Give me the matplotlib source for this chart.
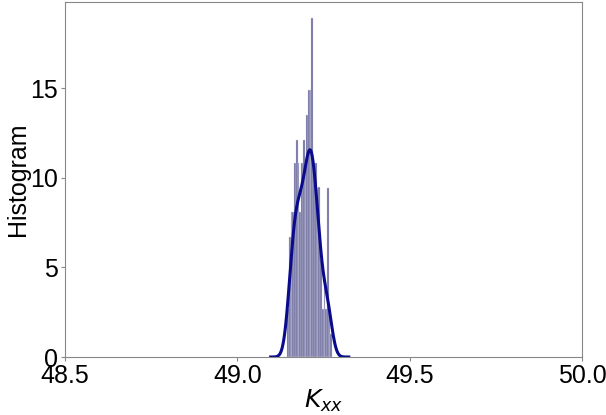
import numpy as np
import matplotlib
matplotlib.use("Agg")
import matplotlib.pyplot as plt

plt.rcParams['font.family'] = ['Liberation Sans', 'DejaVu Sans']

# Histogram bins (left edges) and density heights
bin_width = 0.005
bin_left = [49.145 + bin_width * i for i in range(26)]
heights = [2.7, 6.7, 8.1, 8.1, 10.8, 12.1, 10.8, 8.1, 10.8, 12.1, 10.8, 13.5,
           14.9, 14.9, 18.9, 10.8, 10.8, 9.4, 9.5, 5.4, 2.7, 4.0, 2.7, 9.4, 2.7, 1.3]

xticks = [48.5, 49.0, 49.5, 50.0]
xticklabels = ["48.5", "49.0", "49.5", "50.0"]
yticks = [0, 5, 10, 15]

fig = plt.figure(figsize=(6.06, 4.15), dpi=100)
ax = fig.add_axes([65 / 606, 1 - 357 / 415, (582 - 65) / 606, (357 - 2) / 415])

ax.bar(bin_left, heights, width=bin_width, align="edge", color="#6a6a9c",
       edgecolor="#d8d8e8", linewidth=0.3)

# KDE from the binned data (weighted gaussian)
centers = np.array(bin_left) + bin_width / 2
w = np.array(heights) / np.sum(heights)
mu = np.sum(w * centers)
sd = np.sqrt(np.sum(w * (centers - mu) ** 2))
bw = sd * 0.42
xs = np.linspace(centers.min() - 4 * bw, centers.max() + 4 * bw, 400)
dens = np.sum(w[:, None] * np.exp(-0.5 * ((xs[None, :] - centers[:, None]) / bw) ** 2), axis=0) / (bw * np.sqrt(2 * np.pi))
ax.plot(xs, dens, color="#0a0a8c", linewidth=2.2)

ax.set_xlim(48.5, 50.0)
ax.set_ylim(0, 19.8)
ax.set_xticks(xticks)
ax.set_xticklabels(xticklabels)
ax.set_yticks(yticks)
ax.tick_params(labelsize=18, length=3, color="#888888", pad=2)
for s in ax.spines.values():
    s.set_color("#888888")
ax.set_xlabel("$K_{xx}$", fontsize=18, labelpad=0)
ax.set_ylabel("Histogram", fontsize=18, labelpad=0)
fig.savefig("out.png", dpi=100)
